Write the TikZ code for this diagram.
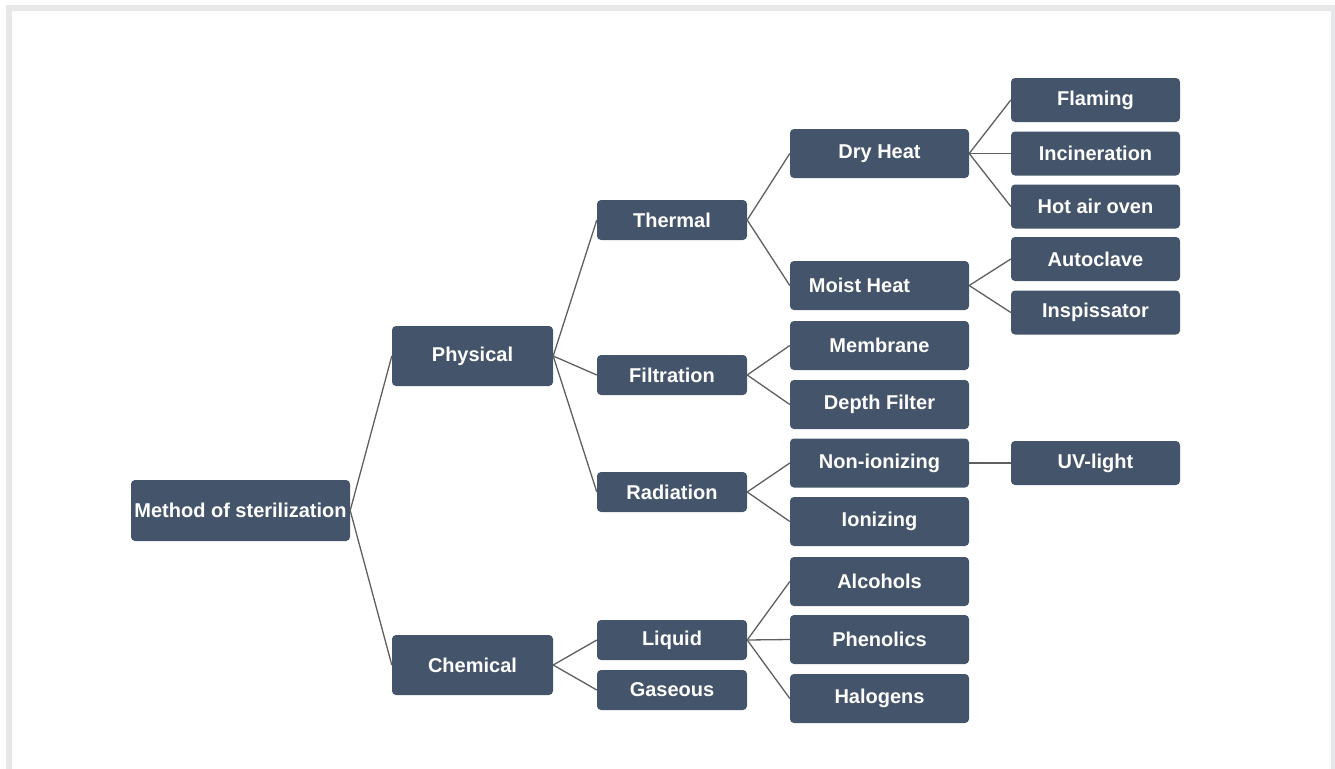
\documentclass[tikz,border=0pt]{standalone}
\usepackage{fontspec}
\setmainfont{Liberation Sans}
\definecolor{boxc}{HTML}{44546A}
\definecolor{linec}{HTML}{5F5F5F}
\definecolor{framec}{HTML}{E6E7E8}
\begin{document}
\begin{tikzpicture}[x=1pt,y=-1pt,
  box/.style={fill=boxc, rounded corners=4pt, text=white, inner sep=0pt,
    font=\bfseries\fontsize{20}{24}\selectfont},
  b1/.style={box, minimum width=219pt, minimum height=61pt},
  b2/.style={box, minimum width=161pt, minimum height=60pt},
  b3/.style={box, minimum width=150pt, minimum height=40pt},
  b4/.style={box, minimum width=179pt, minimum height=49pt},
  b5/.style={box, minimum width=169pt, minimum height=44pt},
  conn/.style={draw=linec, line width=1.3pt}]
\useasboundingbox (0,0) rectangle (1335,768);
\draw[framec, line width=6pt] (9,800) -- (9,8) -- (1334,8) -- (1334,800);

\node[b1] (root) at (240.5,510.5) {Method of sterilization};
\node[b2] (phys) at (472.5,356) {Physical};
\node[b2] (chem) at (472.5,665) {Chemical};

\node[b3] (therm) at (672,220) {Thermal};
\node[b3] (filt) at (672,375) {Filtration};
\node[b3] (rad) at (672,492) {Radiation};
\node[b3] (liq) at (672,640) {Liquid};
\node[b3] (gas) at (672,690) {Gaseous};

\node[b4] (dry) at (879.5,153.5) {Dry Heat};
\node[b4] (moist) at (879.5,285.5) {\hspace*{-40pt}Moist Heat};
\node[b4] (memb) at (879.5,345.5) {Membrane};
\node[b4] (depth) at (879.5,404.5) {Depth Filter};
\node[b4] (nonion) at (879.5,463) {Non-ionizing};
\node[b4] (ion) at (879.5,521.5) {Ionizing};
\node[b4] (alc) at (879.5,581.5) {Alcohols};
\node[b4] (phen) at (879.5,639.5) {Phenolics};
\node[b4] (hal) at (879.5,698.5) {Halogens};

\node[b5] (flam) at (1095.5,100) {Flaming};
\node[b5] (inc) at (1095.5,153.5) {Incineration};
\node[b5] (hot) at (1095.5,206.5) {Hot air oven};
\node[b5] (auto) at (1095.5,259) {Autoclave};
\node[b5] (insp) at (1095.5,312.5) {Inspissator};
\node[b5] (uv) at (1095.5,463) {UV-light};

\foreach \a/\b in {root/phys, root/chem,
  phys/therm, phys/filt, phys/rad,
  chem/liq, chem/gas,
  therm/dry, therm/moist,
  filt/memb, filt/depth,
  rad/nonion, rad/ion,
  liq/alc, liq/phen, liq/hal,
  dry/flam, dry/inc, dry/hot,
  moist/auto, moist/insp,
  nonion/uv}
  \draw[conn] (\a.east) -- (\b.west);
\end{tikzpicture}
\end{document}
